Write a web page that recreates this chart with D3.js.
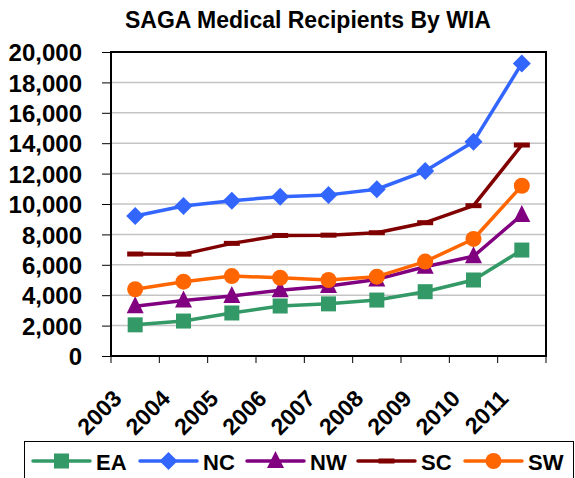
<!DOCTYPE html>
<html>
<head>
<meta charset="utf-8">
<script src="https://cdn.jsdelivr.net/npm/d3@7"></script>
<style>
  body { margin: 0; background: #fff; }
  svg text { font-family: "Liberation Sans", Arial, sans-serif; font-weight: bold; fill: #000; }
</style>
</head>
<body>
<div id="chart"></div>
<script>
var years = ["2003", "2004", "2005", "2006", "2007", "2008", "2009", "2010", "2011"];
var yTicks = [0, 2000, 4000, 6000, 8000, 10000, 12000, 14000, 16000, 18000, 20000];
var seriesNames = ["EA", "NC", "NW", "SC", "SW"];
var ea = [2050, 2300, 2830, 3290, 3430, 3680, 4230, 5000, 6970];
var nc = [9210, 9870, 10220, 10480, 10600, 10970, 12170, 14100, 19250];
var nw = [3280, 3650, 3950, 4330, 4600, 5040, 5870, 6560, 9280];
var sc = [6710, 6700, 7410, 7930, 7950, 8110, 8770, 9890, 13880];
var sw = [4390, 4890, 5260, 5150, 5000, 5220, 6210, 7700, 11200];

var width = 575, height = 478;
var margin = { top: 52, right: 29, bottom: 122, left: 111 };

var svg = d3.select("#chart").append("svg")
    .attr("width", width)
    .attr("height", height);

var x = d3.scaleBand().domain(years).range([margin.left, width - margin.right]);
var y = d3.scaleLinear().domain([0, 20000]).range([height - margin.bottom, margin.top]);

var series = [
    { name: "EA", values: ea, color: "#339966", marker: "square" },
    { name: "NC", values: nc, color: "#3366ff", marker: "diamond" },
    { name: "NW", values: nw, color: "#800080", marker: "triangle" },
    { name: "SC", values: sc, color: "#800000", marker: "dash" },
    { name: "SW", values: sw, color: "#ff6600", marker: "circle" }
];

svg.append("text")
    .attr("x", 308)
    .attr("y", 28)
    .attr("text-anchor", "middle")
    .style("font-size", "23px")
    .text("SAGA Medical Recipients By WIA");

// gridlines
svg.append("g")
    .selectAll("line")
    .data(yTicks.slice(1, -1))
    .enter()
    .append("line")
    .attr("x1", margin.left)
    .attr("x2", width - margin.right)
    .attr("y1", function (d) { return y(d); })
    .attr("y2", function (d) { return y(d); })
    .style("stroke", "#c4c4c4")
    .style("stroke-width", 1.5);

// y axis
var yAxis = svg.append("g")
    .attr("transform", "translate(" + margin.left + ",0)")
    .call(d3.axisLeft(y).tickValues(yTicks).tickFormat(d3.format(",")).tickSize(9).tickPadding(20));
yAxis.select(".domain").remove();
yAxis.selectAll("text").style("font-size", "24px").attr("dy", "0.36em");
yAxis.selectAll("line").style("stroke", "#000").style("stroke-width", 1);

// x axis ticks at band boundaries
var xEdges = years.map(function (d) { return x(d); }).concat([x.range()[1]]);
svg.append("g")
    .selectAll("line")
    .data(xEdges)
    .enter()
    .append("line")
    .attr("x1", function (d) { return d; })
    .attr("x2", function (d) { return d; })
    .attr("y1", y(0))
    .attr("y2", y(0) + 7)
    .style("stroke", "#000")
    .style("stroke-width", 1);

svg.append("g")
    .selectAll("text")
    .data(years)
    .enter()
    .append("text")
    .attr("text-anchor", "end")
    .attr("transform", function (d) {
        return "translate(" + (x(d) + x.bandwidth() / 2 - 12) + ",400) rotate(-45)";
    })
    .style("font-size", "23px")
    .text(function (d) { return d; });

// plot frame
svg.append("rect")
    .attr("x", margin.left)
    .attr("y", margin.top)
    .attr("width", width - margin.left - margin.right)
    .attr("height", height - margin.top - margin.bottom)
    .style("fill", "none")
    .style("stroke", "#000")
    .style("stroke-width", 2);

function drawMarker(g, type, color) {
    if (type === "square") {
        g.append("rect").attr("x", -7.5).attr("y", -7.5).attr("width", 15).attr("height", 15).style("fill", color);
    } else if (type === "diamond") {
        g.append("path").attr("d", "M0,-9L9,0L0,9L-9,0Z").style("fill", color);
    } else if (type === "triangle") {
        g.append("path").attr("d", "M0,-10L8.5,7L-8.5,7Z").style("fill", color);
    } else if (type === "dash") {
        g.append("rect").attr("x", -8).attr("y", -2.5).attr("width", 16).attr("height", 5).style("fill", color);
    } else if (type === "circle") {
        g.append("circle").attr("r", 8).style("fill", color);
    }
}

var line = d3.line()
    .x(function (d, i) { return x(years[i]) + x.bandwidth() / 2; })
    .y(function (d) { return y(d); });

series.forEach(function (s) {
    svg.append("path")
        .datum(s.values)
        .attr("d", line)
        .style("fill", "none")
        .style("stroke", s.color)
        .style("stroke-width", 3.5)
        .style("stroke-linejoin", "round");
    svg.append("g")
        .selectAll("g")
        .data(s.values)
        .enter()
        .append("g")
        .attr("transform", function (d, i) {
            return "translate(" + (x(years[i]) + x.bandwidth() / 2) + "," + y(d) + ")";
        })
        .each(function () { drawMarker(d3.select(this), s.marker, s.color); });
});

// legend
svg.append("rect")
    .attr("x", 24.5)
    .attr("y", 441.5)
    .attr("width", 549)
    .attr("height", 60)
    .style("fill", "#fff")
    .style("stroke", "#000")
    .style("stroke-width", 1);

var legendX = [33, 140, 247, 358, 465];
var legend = svg.append("g")
    .selectAll("g")
    .data(series)
    .enter()
    .append("g")
    .attr("transform", function (d, i) { return "translate(" + legendX[i] + ",461)"; });
legend.append("line")
    .attr("x1", 0)
    .attr("x2", 57)
    .style("stroke", function (d) { return d.color; })
    .style("stroke-width", 3.5)
    .style("stroke-linecap", "round");
legend.append("g")
    .attr("transform", "translate(28.5,0)")
    .each(function (d) { drawMarker(d3.select(this), d.marker, d.color); });
legend.append("text")
    .attr("x", 63)
    .attr("y", 8.5)
    .style("font-size", "22px")
    .text(function (d) { return d.name; });
</script>
</body>
</html>
